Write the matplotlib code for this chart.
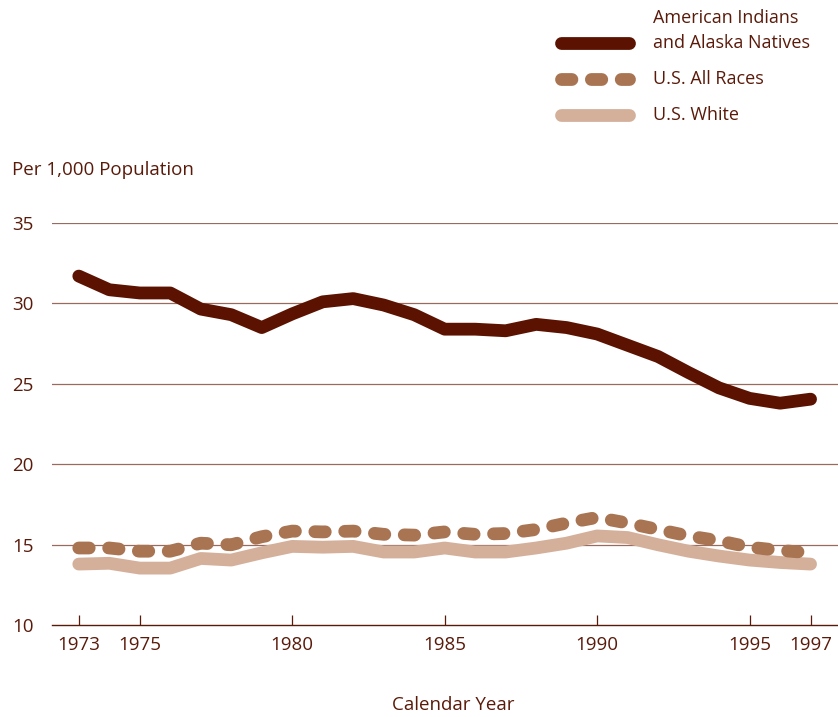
import matplotlib
matplotlib.use("Agg")
import matplotlib.pyplot as plt
from matplotlib.lines import Line2D

# rates per 1,000 population
years = list(range(1973, 1998))
aian = [31.7, 30.85, 30.65, 30.65, 29.65, 29.3, 28.5, 29.35, 30.1, 30.3, 29.9, 29.3, 28.4,
        28.4, 28.3, 28.7, 28.5, 28.1, 27.4, 26.7, 25.7, 24.75, 24.1, 23.8, 24.05]
all_races = [14.8, 14.8, 14.6, 14.6, 15.1, 15.0, 15.5, 15.85, 15.8, 15.85, 15.65, 15.6, 15.8,
             15.65, 15.7, 15.95, 16.35, 16.7, 16.35, 15.95, 15.55, 15.25, 14.85, 14.65, 14.5]
white = [13.8, 13.85, 13.55, 13.55, 14.15, 14.05, 14.5, 14.9, 14.85, 14.9, 14.55, 14.55, 14.8,
         14.55, 14.55, 14.8, 15.1, 15.55, 15.45, 15.0, 14.6, 14.3, 14.05, 13.9, 13.8]
xticks = [1973, 1975, 1980, 1985, 1990, 1995, 1997]
yticks = [10, 15, 20, 25, 30, 35]
names = ["American Indians\nand Alaska Natives", "U.S. All Races", "U.S. White"]

txt = "#5a1a0a"
grid = "#9a6a5e"
c_aian, c_all, c_white = "#5c1200", "#a87452", "#d4b09b"
plt.rcParams['font.family'] = ['Open Sans', 'DejaVu Sans']
plt.rcParams['lines.scale_dashes'] = False

W, H = 838, 717
fig = plt.figure(figsize=(W / 100, H / 100), dpi=100)
ax = fig.add_axes([0.062, 0.128, 0.938, 0.561])

lw = 9.2
dash = (7.5, 14)
ax.plot(years, white, color=c_white, lw=lw, solid_capstyle="round", solid_joinstyle="round")
ax.plot(years, all_races, color=c_all, lw=lw, dashes=dash,
        dash_capstyle="round", dash_joinstyle="round")
ax.plot(years, aian, color=c_aian, lw=lw, solid_capstyle="round", solid_joinstyle="round")

ax.set_xlim(1972.12, 1997.9)
ax.set_ylim(10, 35)
ax.set_yticks(yticks)
ax.set_xticks(xticks)
for y in yticks[1:]:
    ax.axhline(y, color=grid, lw=0.9, zorder=0)

for s in ["top", "right", "left"]:
    ax.spines[s].set_visible(False)
ax.spines["bottom"].set_color(txt)
ax.spines["bottom"].set_linewidth(1.0)
ax.tick_params(axis="x", direction="in", length=7, width=0.9, color=txt,
               labelcolor=txt, labelsize=13.5, pad=8)
ax.tick_params(axis="y", length=0, labelcolor=txt, labelsize=13.5, pad=13)

fig.text(12 / W, 1 - 170 / H, "Per 1,000 Population", color=txt, fontsize=13.5, va="center")
fig.text(453 / W, 1 - 705 / H, "Calendar Year", color=txt, fontsize=13.5, ha="center", va="center")

# legend, drawn by hand so the first handle sits on the second text line
rows = [43, 79, 115]
styles = [dict(color=c_aian, solid_capstyle="round"),
          dict(color=c_all, dashes=dash, dash_capstyle="round"),
          dict(color=c_white, solid_capstyle="round")]
for yp, name, st in zip(rows, names, styles):
    fig.add_artist(Line2D([561 / W, 629 / W], [1 - yp / H, 1 - yp / H], lw=lw,
                          transform=fig.transFigure, **st))
    lines = name.split("\n")
    for k, t in enumerate(reversed(lines)):
        fig.text(653 / W, 1 - (yp - 25 * k) / H, t, color=txt, fontsize=13, va="center")

fig.savefig("out.png", dpi=100)
